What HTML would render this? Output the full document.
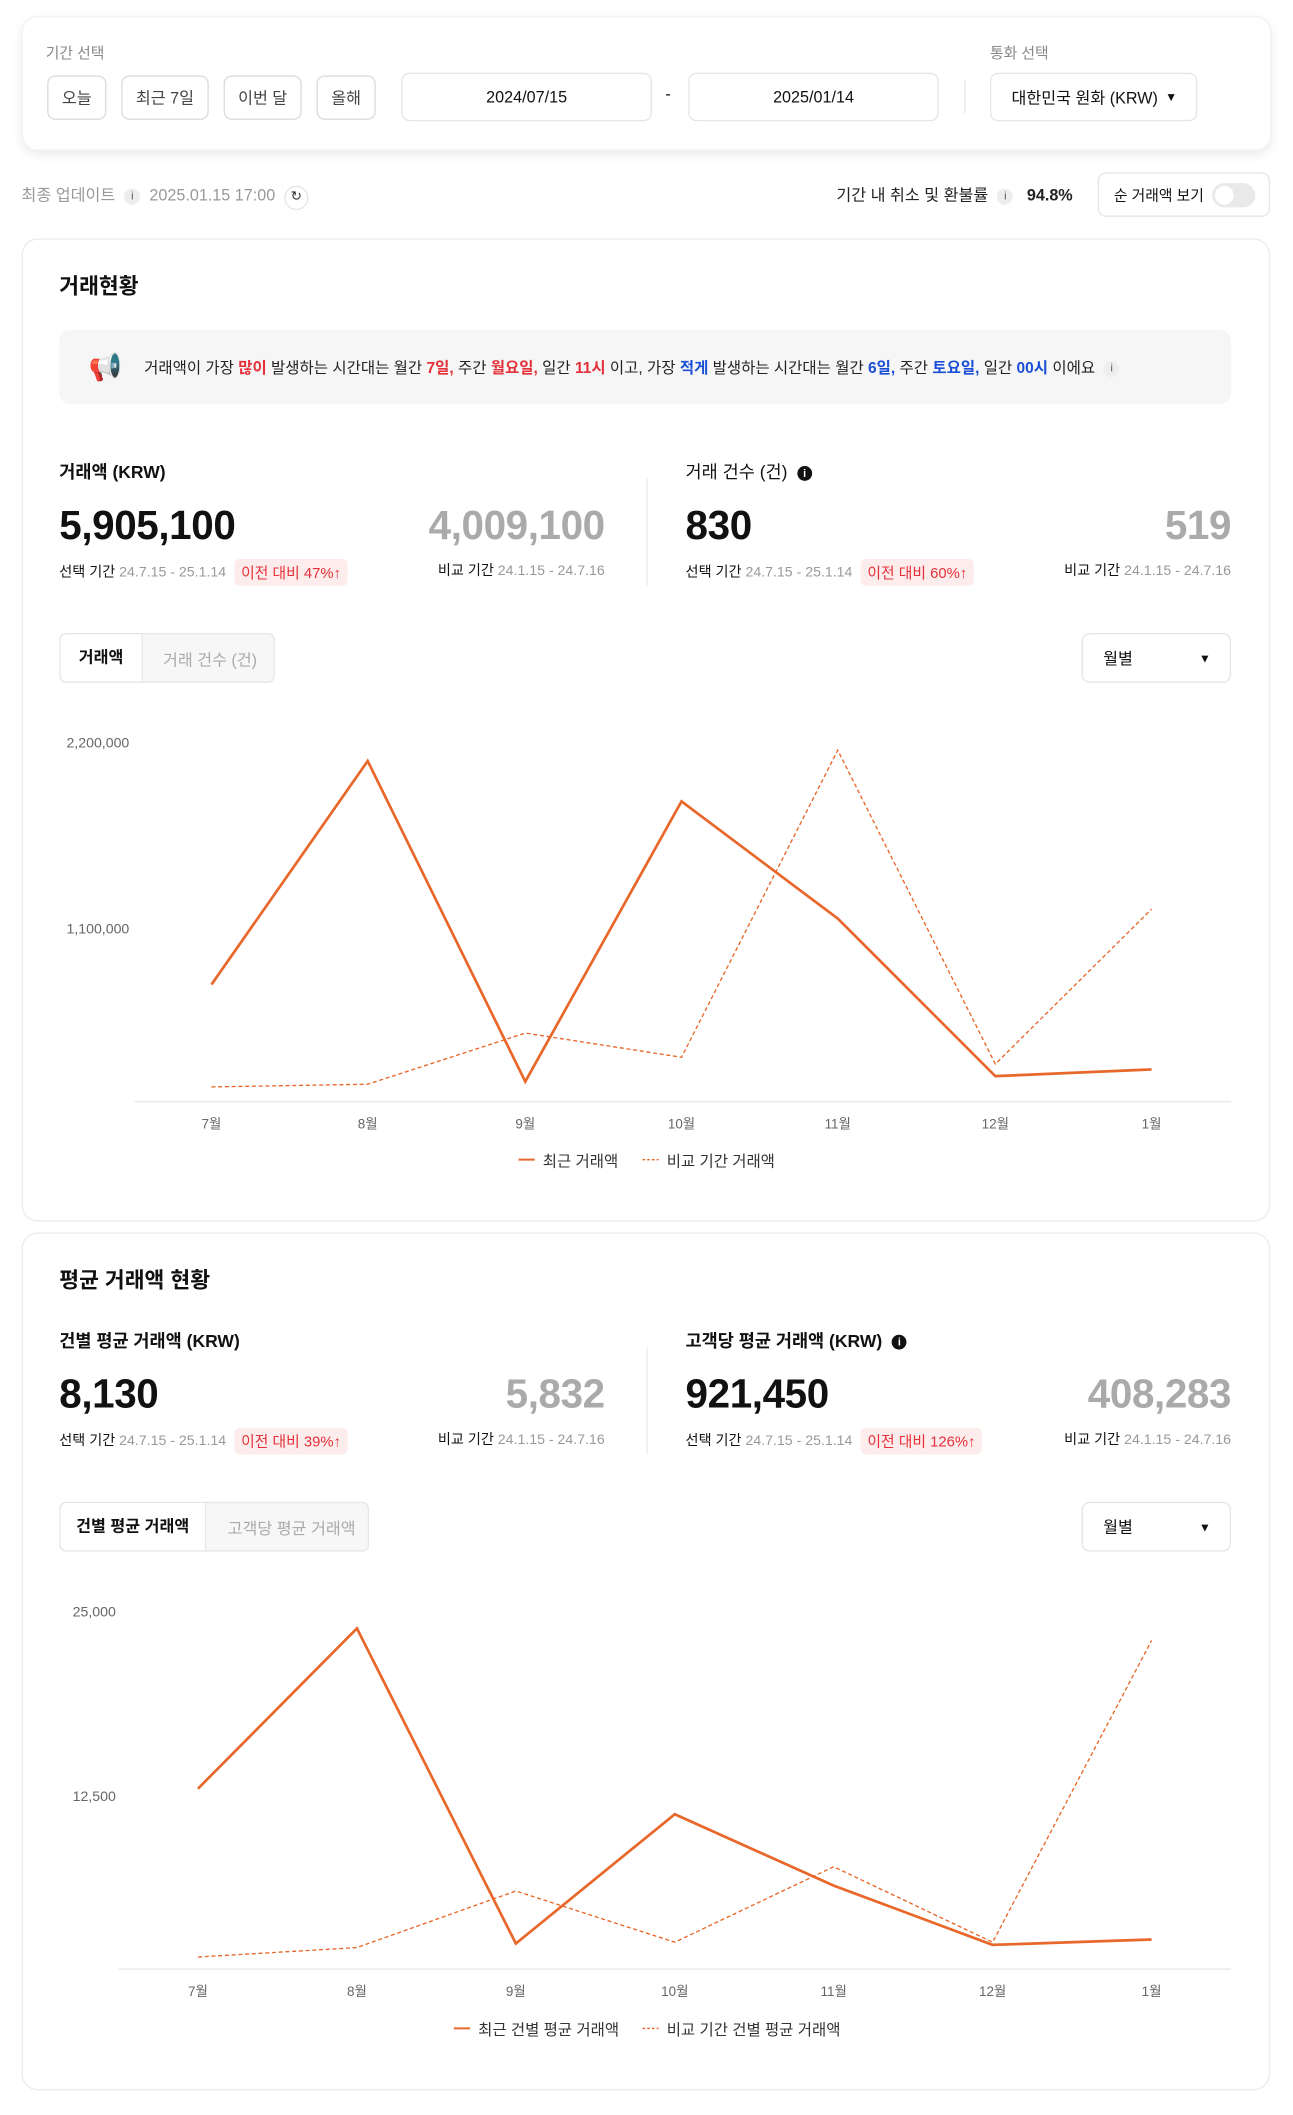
<!DOCTYPE html>
<html><head><meta charset="utf-8">
<style>
*{box-sizing:border-box;margin:0;padding:0}
html,body{width:1293px;height:2114px;overflow:hidden;background:#fff}
body{font-family:"Liberation Sans","Noto Sans CJK KR",sans-serif;color:#111}
#w{position:absolute;left:0;top:0;width:960px;height:1570px;transform:scale(1.346875);transform-origin:0 0}
.a{position:absolute;white-space:nowrap}
.card{position:absolute;border:1px solid #ececec;border-radius:12px;background:#fff}
.btn{position:absolute;border:1px solid #dcdcdc;border-radius:6px;font-size:12px;color:#444;display:flex;align-items:center;justify-content:center;background:#fff}
.sm{font-size:11px;color:#999}
.g{color:#999}
.red{color:#e5303a}.blue{color:#1a4fd6}
.badge{position:absolute;background:#fdecec;color:#e5303a;font-size:11px;border-radius:4px;padding:2px 5px}
.big{font-size:30px;font-weight:bold;letter-spacing:-0.3px}
.info{display:inline-block;width:12px;height:12px;border-radius:50%;background:#eee;color:#555;font-size:8px;text-align:center;line-height:12px;vertical-align:middle}
.infob{display:inline-block;width:11px;height:11px;border-radius:50%;background:#111;color:#fff;font-size:8px;text-align:center;line-height:11px;vertical-align:middle;font-weight:bold}
</style></head><body><div id="w">
<div class="card" style="left:16px;top:12px;width:928px;height:100px;box-shadow:0 3px 8px rgba(0,0,0,.08);border-color:#f2f2f2"></div>
<div class="a sm" style="left:34px;top:31px;color:#888">기간 선택</div>
<div class="a sm" style="left:735px;top:31px;color:#888">통화 선택</div>
<div class="btn" style="left:35px;top:56px;width:44px;height:33px">오늘</div>
<div class="btn" style="left:90px;top:56px;width:65px;height:33px">최근 7일</div>
<div class="btn" style="left:166px;top:56px;width:58px;height:33px">이번 달</div>
<div class="btn" style="left:235px;top:56px;width:44px;height:33px">올해</div>
<div class="btn" style="left:298px;top:54px;width:186px;height:36px;border-color:#e6e6e6;color:#111">2024/07/15</div>
<div class="a" style="left:494px;top:63px;font-size:12px">-</div>
<div class="btn" style="left:511px;top:54px;width:186px;height:36px;border-color:#e6e6e6;color:#111">2025/01/14</div>
<div class="a" style="left:716px;top:60px;width:1px;height:24px;background:#e6e6e6"></div>
<div class="btn" style="left:735px;top:54px;width:154px;height:36px;border-color:#e6e6e6;color:#111;justify-content:flex-start;padding-left:15px">대한민국 원화 (KRW)<span style="position:absolute;right:14px;font-size:9px">▼</span></div>
<div class="a" style="left:16px;top:136px;font-size:12px;color:#999">최종 업데이트 &nbsp;<span class="info">i</span>&nbsp; 2025.01.15 17:00 &nbsp;<span style="display:inline-block;width:18px;height:18px;border:1px solid #e6e6e6;border-radius:50%;text-align:center;line-height:16px;color:#333;font-size:10px">↻</span></div>
<div class="a" style="left:621px;top:136px;font-size:12px;color:#222">기간 내 취소 및 환불률 &nbsp;<span class="info">i</span>&nbsp;&nbsp; <b>94.8%</b></div>
<div class="btn" style="left:815px;top:128px;width:128px;height:33px;border-color:#e6e6e6;color:#111;justify-content:flex-start;padding-left:11px;font-size:11px">순 거래액 보기<span style="position:absolute;right:10px;top:7px;width:32px;height:18px;border-radius:9px;background:#e9e9e9"><span style="position:absolute;left:2px;top:2px;width:14px;height:14px;border-radius:50%;background:#fff"></span></span></div>

<div class="card" style="left:16px;top:177px;width:927px;height:730px"></div>
<div class="a" style="left:44px;top:199px;font-size:16px;font-weight:bold">거래현황</div>
<div class="a" style="left:44px;top:245px;width:870px;height:55px;background:#f6f6f6;border-radius:8px"></div>
<div class="a" style="left:66px;top:260px;font-size:20px">📢</div>
<div class="a" style="left:107px;top:265px;font-size:11.5px;color:#222">거래액이 가장 <b class="red">많이</b> 발생하는 시간대는 월간 <b class="red">7일,</b> 주간 <b class="red">월요일,</b> 일간 <b class="red">11시</b> 이고, 가장 <b class="blue">적게</b> 발생하는 시간대는 월간 <b class="blue">6일,</b> 주간 <b class="blue">토요일,</b> 일간 <b class="blue">00시</b> 이에요 &nbsp;<span class="info">i</span></div>

<div class="a" style="left:44px;top:340px;font-size:13px;font-weight:bold">거래액 (KRW)</div>
<div class="a big" style="left:44px;top:374px">5,905,100</div>
<div class="a big" style="right:511px;top:374px;color:#aaa">4,009,100</div>
<div class="a" style="left:44px;top:417px;font-size:10.5px">선택 기간 <span class="g">24.7.15 - 25.1.14</span></div>
<div class="badge" style="left:174px;top:415px">이전 대비 47%↑</div>
<div class="a" style="right:511px;top:416px;font-size:10.5px">비교 기간 <span class="g">24.1.15 - 24.7.16</span></div>
<div class="a" style="left:480px;top:355px;width:1px;height:80px;background:#eee"></div>
<div class="a" style="left:509px;top:340px;font-size:13px">거래 건수 (건) &nbsp;<span class="infob">i</span></div>
<div class="a big" style="left:509px;top:374px">830</div>
<div class="a big" style="right:46px;top:374px;color:#aaa">519</div>
<div class="a" style="left:509px;top:417px;font-size:10.5px">선택 기간 <span class="g">24.7.15 - 25.1.14</span></div>
<div class="badge" style="left:639px;top:415px">이전 대비 60%↑</div>
<div class="a" style="right:46px;top:416px;font-size:10.5px">비교 기간 <span class="g">24.1.15 - 24.7.16</span></div>

<div class="a" style="left:44px;top:470px;width:160px;height:37px;border:1px solid #e6e6e6;border-radius:5px;background:#f7f7f7"></div>
<div class="a" style="left:45px;top:471px;width:61px;height:35px;background:#fff;border-right:1px solid #e6e6e6;border-radius:5px 0 0 5px;font-size:12px;font-weight:bold;text-align:center;line-height:35px">거래액</div>
<div class="a" style="left:121px;top:481px;font-size:12px;color:#aaa">거래 건수 (건)</div>
<div class="btn" style="left:803px;top:470px;width:111px;height:37px;border-color:#e6e6e6;color:#111;justify-content:flex-start;padding-left:15px">월별<span style="position:absolute;right:14px;font-size:9px">▼</span></div>

<svg class="a" style="left:0;top:530px" width="960" height="360" viewBox="0 530 960 360" font-family="Liberation Sans, Noto Sans CJK KR, sans-serif">
<g font-size="10.5" fill="#666"><text x="96" y="555" text-anchor="end">2,200,000</text><text x="96" y="693" text-anchor="end">1,100,000</text></g>
<line x1="100" y1="818" x2="914" y2="818" stroke="#e6e6e6"/>
<g font-size="10" fill="#666" text-anchor="middle"><text x="157" y="838">7월</text><text x="273" y="838">8월</text><text x="390" y="838">9월</text><text x="506" y="838">10월</text><text x="622" y="838">11월</text><text x="739" y="838">12월</text><text x="855" y="838">1월</text></g>
<polyline fill="none" stroke="#e8672a" stroke-width="2" points="157,731 273,565 390,803 506,595 622,682 739,799 855,794"/>
<polyline fill="none" stroke="#e8672a" stroke-width="1" stroke-dasharray="3,2" points="157,807 273,805 390,767 506,785 622,557 739,790 855,675"/>
<line x1="385" y1="861" x2="397" y2="861" stroke="#e8672a" stroke-width="1.5"/>
<text x="403" y="866" font-size="11.5" fill="#333">최근 거래액</text>
<line x1="477" y1="861" x2="489" y2="861" stroke="#e8672a" stroke-dasharray="2,1.5"/>
<text x="495" y="866" font-size="11.5" fill="#333">비교 기간 거래액</text>
</svg>

<div class="card" style="left:16px;top:915px;width:927px;height:637px"></div>
<div class="a" style="left:44px;top:937px;font-size:16px;font-weight:bold">평균 거래액 현황</div>
<div class="a" style="left:44px;top:985px;font-size:13px;font-weight:bold">건별 평균 거래액 (KRW)</div>
<div class="a big" style="left:44px;top:1019px">8,130</div>
<div class="a big" style="right:511px;top:1019px;color:#aaa">5,832</div>
<div class="a" style="left:44px;top:1062px;font-size:10.5px">선택 기간 <span class="g">24.7.15 - 25.1.14</span></div>
<div class="badge" style="left:174px;top:1060px">이전 대비 39%↑</div>
<div class="a" style="right:511px;top:1061px;font-size:10.5px">비교 기간 <span class="g">24.1.15 - 24.7.16</span></div>
<div class="a" style="left:480px;top:1000px;width:1px;height:80px;background:#eee"></div>
<div class="a" style="left:509px;top:985px;font-size:13px;font-weight:bold">고객당 평균 거래액 (KRW) &nbsp;<span class="infob">i</span></div>
<div class="a big" style="left:509px;top:1019px">921,450</div>
<div class="a big" style="right:46px;top:1019px;color:#aaa">408,283</div>
<div class="a" style="left:509px;top:1062px;font-size:10.5px">선택 기간 <span class="g">24.7.15 - 25.1.14</span></div>
<div class="badge" style="left:639px;top:1060px">이전 대비 126%↑</div>
<div class="a" style="right:46px;top:1061px;font-size:10.5px">비교 기간 <span class="g">24.1.15 - 24.7.16</span></div>

<div class="a" style="left:44px;top:1115px;width:230px;height:37px;border:1px solid #e6e6e6;border-radius:5px;background:#f7f7f7"></div>
<div class="a" style="left:45px;top:1116px;width:108px;height:35px;background:#fff;border-right:1px solid #e6e6e6;border-radius:5px 0 0 5px;font-size:12px;font-weight:bold;text-align:center;line-height:35px">건별 평균 거래액</div>
<div class="a" style="left:169px;top:1126px;font-size:12px;color:#aaa">고객당 평균 거래액</div>
<div class="btn" style="left:803px;top:1115px;width:111px;height:37px;border-color:#e6e6e6;color:#111;justify-content:flex-start;padding-left:15px">월별<span style="position:absolute;right:14px;font-size:9px">▼</span></div>

<svg class="a" style="left:0;top:1175px" width="960" height="360" viewBox="0 1175 960 360" font-family="Liberation Sans, Noto Sans CJK KR, sans-serif">
<g font-size="10.5" fill="#666"><text x="86" y="1200" text-anchor="end">25,000</text><text x="86" y="1337" text-anchor="end">12,500</text></g>
<line x1="88" y1="1462" x2="914" y2="1462" stroke="#e6e6e6"/>
<g font-size="10" fill="#666" text-anchor="middle"><text x="147" y="1482">7월</text><text x="265" y="1482">8월</text><text x="383" y="1482">9월</text><text x="501" y="1482">10월</text><text x="619" y="1482">11월</text><text x="737" y="1482">12월</text><text x="855" y="1482">1월</text></g>
<polyline fill="none" stroke="#e8672a" stroke-width="2" points="147,1328 265,1209 383,1443 501,1347 619,1400 737,1444 855,1440"/>
<polyline fill="none" stroke="#e8672a" stroke-width="1" stroke-dasharray="3,2" points="147,1453 265,1446 383,1404 501,1442 619,1386 737,1442 855,1218"/>
<line x1="337" y1="1506" x2="349" y2="1506" stroke="#e8672a" stroke-width="1.5"/>
<text x="355" y="1511" font-size="11.5" fill="#333">최근 건별 평균 거래액</text>
<line x1="477" y1="1506" x2="489" y2="1506" stroke="#e8672a" stroke-dasharray="2,1.5"/>
<text x="495" y="1511" font-size="11.5" fill="#333">비교 기간 건별 평균 거래액</text>
</svg>
</div></body></html>
